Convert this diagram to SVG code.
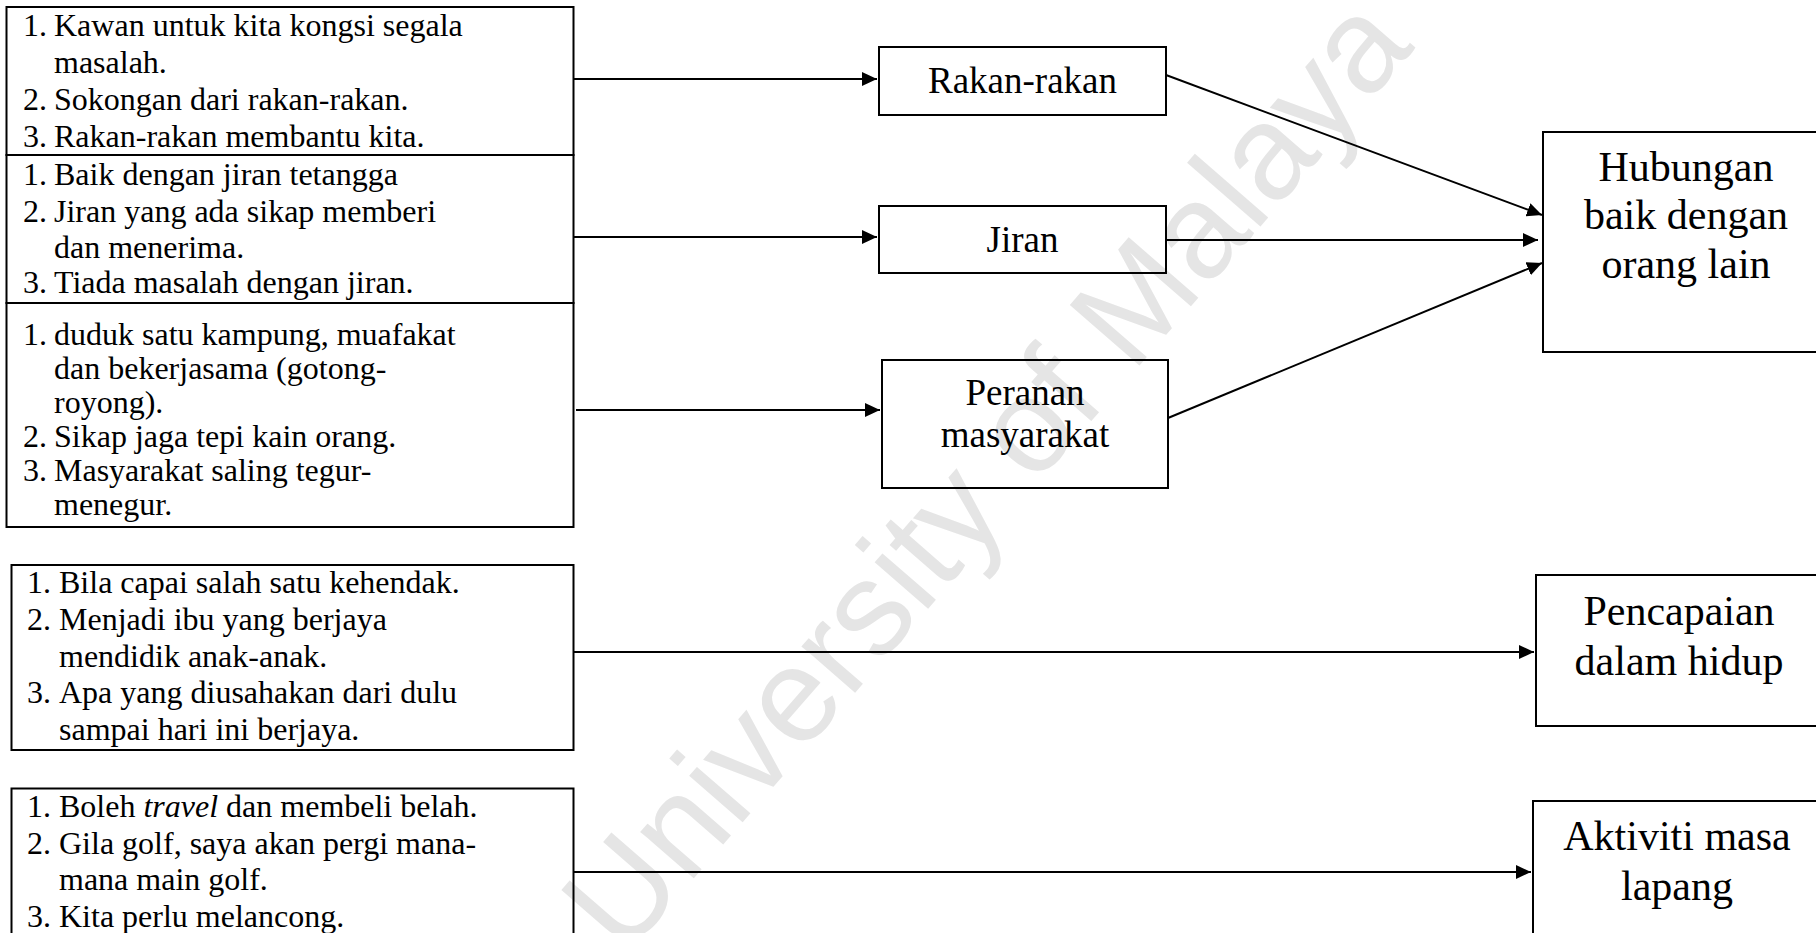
<svg xmlns="http://www.w3.org/2000/svg" width="1816" height="933" viewBox="0 0 1816 933">
<style>
.box{fill:none;stroke:#000;stroke-width:2}
.t{font-family:"Liberation Serif","Times New Roman",serif;font-size:32px;fill:#000}
.n{font-family:"Liberation Serif","Times New Roman",serif;font-size:37px;fill:#000;text-anchor:middle}
.b{font-family:"Liberation Serif","Times New Roman",serif;font-size:42px;fill:#000;text-anchor:middle}
.c{fill:none;stroke:#000;stroke-width:2}
.wm{font-family:"Liberation Sans",Arial,sans-serif;font-size:134px;fill:#e5e5e5;text-anchor:middle}
</style>
<defs>
<marker id="ah" markerUnits="userSpaceOnUse" markerWidth="16" markerHeight="14" refX="15" refY="7" orient="auto">
<path d="M0,0 L15,7 L0,14 z" fill="#000"/>
</marker>
</defs>
<rect width="1816" height="933" fill="#fff"/>
<text class="wm" x="1020" y="503" transform="rotate(-49 1020 503)">University of Malaya</text>

<g id="list-rakan">
<rect class="box" x="6.5" y="7" width="567" height="148"/>
<text class="t" x="23" y="36">1.</text><text class="t" x="54" y="36">Kawan untuk kita kongsi segala</text>
<text class="t" x="54" y="73">masalah.</text>
<text class="t" x="23" y="110">2.</text><text class="t" x="54" y="110">Sokongan dari rakan-rakan.</text>
<text class="t" x="23" y="147">3.</text><text class="t" x="54" y="147">Rakan-rakan membantu kita.</text>
</g>
<g id="list-jiran">
<rect class="box" x="6.5" y="155" width="567" height="148"/>
<text class="t" x="23" y="185">1.</text><text class="t" x="54" y="185">Baik dengan jiran tetangga</text>
<text class="t" x="23" y="222">2.</text><text class="t" x="54" y="222">Jiran yang ada sikap memberi</text>
<text class="t" x="54" y="258">dan menerima.</text>
<text class="t" x="23" y="293">3.</text><text class="t" x="54" y="293">Tiada masalah dengan jiran.</text>
</g>
<g id="list-masyarakat">
<rect class="box" x="6.5" y="303" width="567" height="224"/>
<text class="t" x="23" y="345">1.</text><text class="t" x="54" y="345">duduk satu kampung, muafakat</text>
<text class="t" x="54" y="379">dan bekerjasama (gotong-</text>
<text class="t" x="54" y="413">royong).</text>
<text class="t" x="23" y="447">2.</text><text class="t" x="54" y="447">Sikap jaga tepi kain orang.</text>
<text class="t" x="23" y="481">3.</text><text class="t" x="54" y="481">Masyarakat saling tegur-</text>
<text class="t" x="54" y="515">menegur.</text>
</g>
<g id="list-pencapaian">
<rect class="box" x="11.5" y="565" width="562" height="185"/>
<text class="t" x="27" y="593">1.</text><text class="t" x="59" y="593">Bila capai salah satu kehendak.</text>
<text class="t" x="27" y="630">2.</text><text class="t" x="59" y="630">Menjadi ibu yang berjaya</text>
<text class="t" x="59" y="667">mendidik anak-anak.</text>
<text class="t" x="27" y="703">3.</text><text class="t" x="59" y="703">Apa yang diusahakan dari dulu</text>
<text class="t" x="59" y="740">sampai hari ini berjaya.</text>
</g>
<g id="list-aktiviti">
<rect class="box" x="11.5" y="788.5" width="562" height="200"/>
<text class="t" x="27" y="817">1.</text><text class="t" x="59" y="817">Boleh <tspan font-style="italic">travel</tspan> dan membeli belah.</text>
<text class="t" x="27" y="854">2.</text><text class="t" x="59" y="854">Gila golf, saya akan pergi mana-</text>
<text class="t" x="59" y="890">mana main golf.</text>
<text class="t" x="27" y="927">3.</text><text class="t" x="59" y="927">Kita perlu melancong.</text>
</g>

<g id="rakan">
<rect class="box" x="879" y="47" width="287" height="68"/>
<text class="n" x="1022.5" y="93">Rakan-rakan</text>
</g>
<g id="jiran">
<rect class="box" x="879" y="206" width="287" height="67"/>
<text class="n" x="1022.5" y="252">Jiran</text>
</g>
<g id="peranan">
<rect class="box" x="882" y="360" width="286" height="128"/>
<text class="n" x="1025" y="405">Peranan</text>
<text class="n" x="1025" y="447">masyarakat</text>
</g>
<g id="hubungan">
<rect class="box" x="1543" y="132" width="300" height="220"/>
<text class="b" x="1686" y="181">Hubungan</text>
<text class="b" x="1686" y="229">baik dengan</text>
<text class="b" x="1686" y="278">orang lain</text>
</g>
<g id="pencapaian">
<rect class="box" x="1536" y="575" width="300" height="151"/>
<text class="b" x="1679" y="625">Pencapaian</text>
<text class="b" x="1679" y="675">dalam hidup</text>
</g>
<g id="aktiviti">
<rect class="box" x="1533" y="801" width="300" height="200"/>
<text class="b" x="1677" y="850">Aktiviti masa</text>
<text class="b" x="1677" y="900">lapang</text>
</g>

<g id="connectors">
<line class="c" x1="573.5" y1="79" x2="877" y2="79" marker-end="url(#ah)"/>
<line class="c" x1="573.5" y1="237" x2="877" y2="237" marker-end="url(#ah)"/>
<line class="c" x1="576" y1="410" x2="880" y2="410" marker-end="url(#ah)"/>
<line class="c" x1="573.5" y1="652" x2="1534" y2="652" marker-end="url(#ah)"/>
<line class="c" x1="573.5" y1="872" x2="1531" y2="872" marker-end="url(#ah)"/>
<line class="c" x1="1166" y1="75" x2="1542" y2="215" marker-end="url(#ah)"/>
<line class="c" x1="1166" y1="240" x2="1538" y2="240" marker-end="url(#ah)"/>
<line class="c" x1="1168" y1="418" x2="1542" y2="263" marker-end="url(#ah)"/>
</g>
</svg>
